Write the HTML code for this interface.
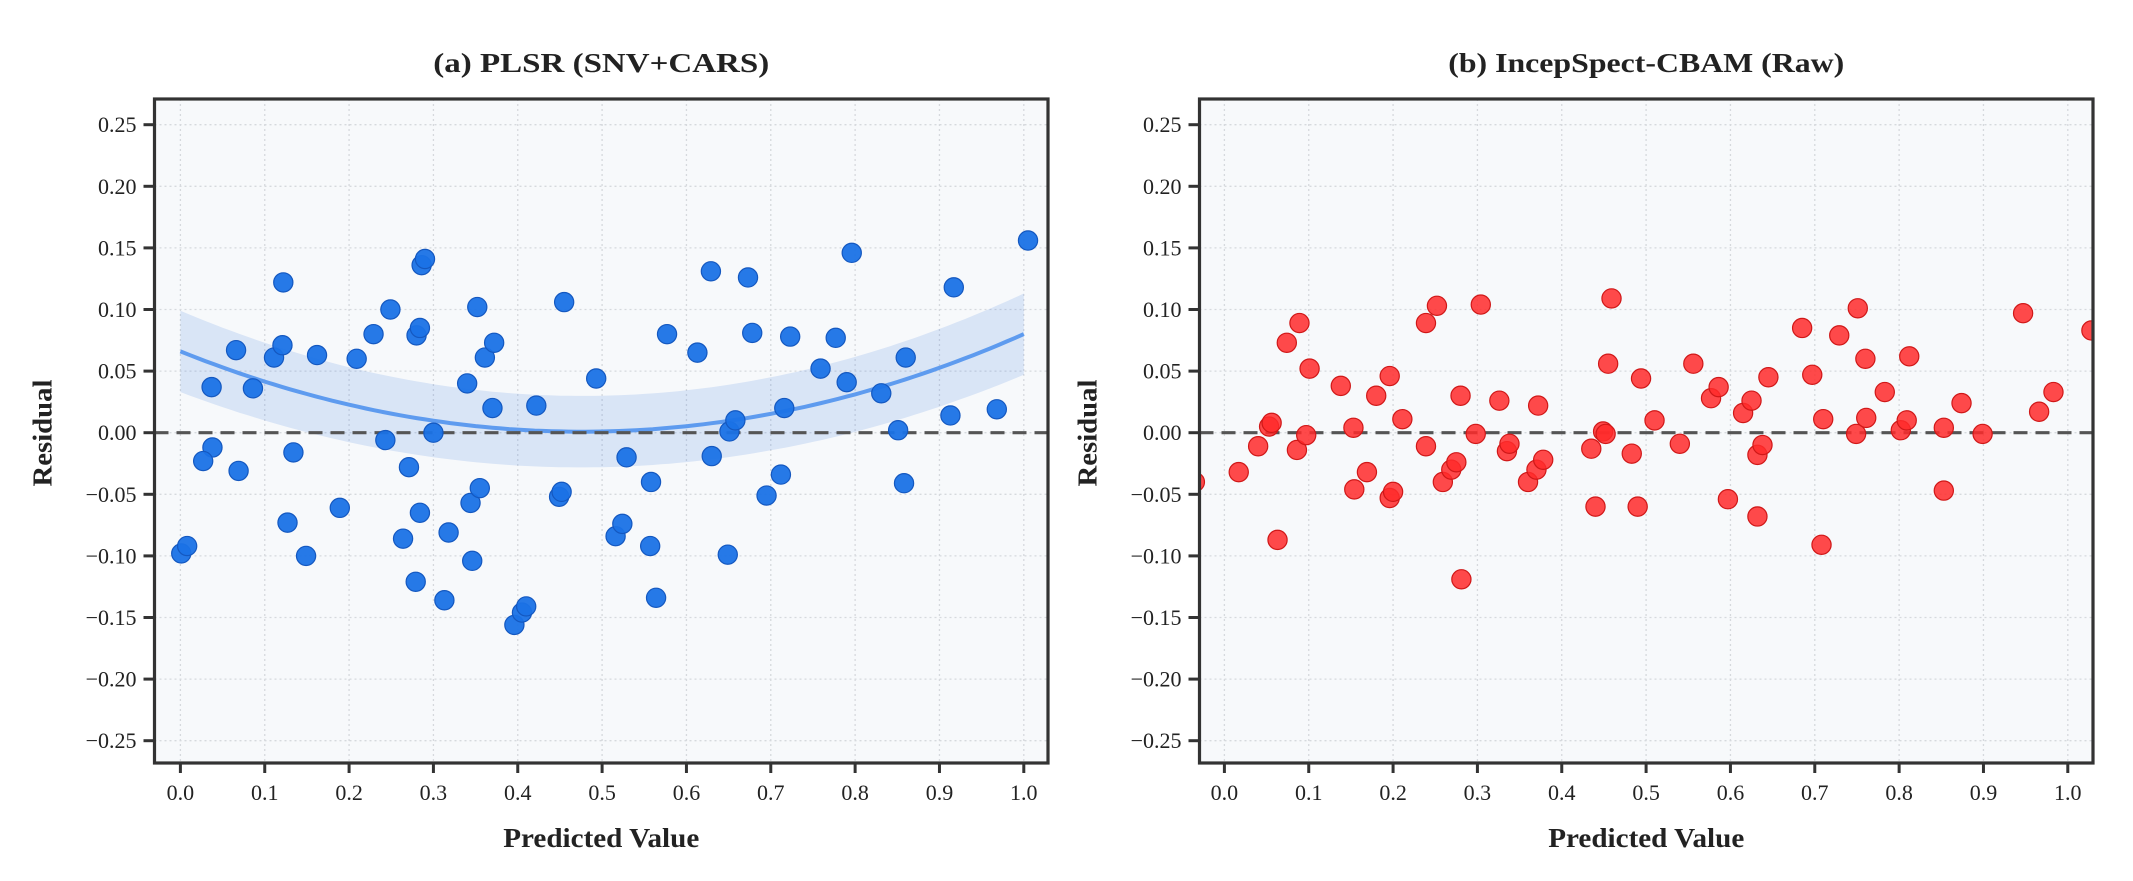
<!DOCTYPE html>
<html><head><meta charset="utf-8"><style>
html,body{margin:0;padding:0;background:#fff;}
svg{display:block;}
text{font-family:"Liberation Serif",serif;fill:#222;}
</style></head><body>
<svg id="chart" width="2133" height="881" viewBox="0 0 2133 881" xmlns="http://www.w3.org/2000/svg"></svg>
<script>
// Panel (a) PLSR data
const plsrPred = [0.001,0.008,0.037,0.038,0.027,0.066,0.069,0.086,0.111,0.121,0.122,0.127,0.134,0.149,0.162,0.189,0.209,0.229,0.243,0.249,0.264,0.271,0.280,0.284,0.279,0.284,0.286,0.290,0.300,0.313,0.318,0.340,0.344,0.346,0.352,0.355,0.361,0.372,0.370,0.396,0.405,0.410,0.422,0.449,0.452,0.455,0.493,0.516,0.524,0.529,0.558,0.557,0.564,0.577,0.613,0.629,0.630,0.649,0.651,0.658,0.673,0.678,0.695,0.712,0.716,0.723,0.759,0.777,0.790,0.796,0.831,0.851,0.860,0.858,0.917,0.913,0.968,1.005];
const plsrRes = [-0.098,-0.092,0.037,-0.012,-0.023,0.067,-0.031,0.036,0.061,0.071,0.122,-0.073,-0.016,-0.100,0.063,-0.061,0.060,0.080,-0.006,0.100,-0.086,-0.028,0.079,0.085,-0.121,-0.065,0.136,0.141,0.000,-0.136,-0.081,0.040,-0.057,-0.104,0.102,-0.045,0.061,0.073,0.020,-0.156,-0.146,-0.141,0.022,-0.052,-0.048,0.106,0.044,-0.084,-0.074,-0.020,-0.040,-0.092,-0.134,0.080,0.065,0.131,-0.019,-0.099,0.001,0.010,0.126,0.081,-0.051,-0.034,0.020,0.078,0.052,0.077,0.041,0.146,0.032,0.002,0.061,-0.041,0.118,0.014,0.019,0.156];
// Quadratic fit coefficients (a*x^2 + b*x + c) and band half-width
const fitCoef = [0.288,-0.274,0.066];
const fitBand = [0.029,0.004];
// Panel (b) IncepSpect-CBAM data
const cnnPred = [-0.035,0.017,0.040,0.053,0.056,0.063,0.074,0.086,0.089,0.097,0.101,0.138,0.153,0.154,0.169,0.180,0.196,0.196,0.200,0.211,0.239,0.239,0.252,0.259,0.269,0.275,0.280,0.281,0.298,0.304,0.326,0.335,0.338,0.360,0.370,0.372,0.378,0.435,0.440,0.449,0.452,0.455,0.459,0.483,0.490,0.494,0.510,0.540,0.556,0.577,0.586,0.597,0.615,0.625,0.632,0.638,0.632,0.645,0.685,0.697,0.708,0.710,0.729,0.751,0.749,0.760,0.761,0.783,0.802,0.809,0.812,0.853,0.853,0.874,0.899,0.947,0.966,0.983,1.028];
const cnnRes = [-0.040,-0.032,-0.011,0.005,0.008,-0.087,0.073,-0.014,0.089,-0.002,0.052,0.038,0.004,-0.046,-0.032,0.030,0.046,-0.053,-0.048,0.011,0.089,-0.011,0.103,-0.040,-0.030,-0.024,0.030,-0.119,-0.001,0.104,0.026,-0.015,-0.009,-0.040,-0.030,0.022,-0.022,-0.013,-0.060,0.001,-0.001,0.056,0.109,-0.017,-0.060,0.044,0.010,-0.009,0.056,0.028,0.037,-0.054,0.016,0.026,-0.018,-0.010,-0.068,0.045,0.085,0.047,-0.091,0.011,0.079,0.101,-0.001,0.060,0.012,0.033,0.002,0.010,0.062,0.004,-0.047,0.024,-0.001,0.097,0.017,0.033,0.083];
const xTicks = [0.0,0.1,0.2,0.3,0.4,0.5,0.6,0.7,0.8,0.9,1.0];
const yTicks = [0.25,0.20,0.15,0.10,0.05,0.00,-0.05,-0.10,-0.15,-0.20,-0.25];

const NS = "http://www.w3.org/2000/svg";
const svg = document.getElementById('chart');
function mk(tag, attrs, parent){
  const e = document.createElementNS(NS, tag);
  for (const k in attrs) e.setAttribute(k, attrs[k]);
  (parent||svg).appendChild(e);
  return e;
}
const Y0 = 432.7, YS = 1232, TOP = 99, BOT = 763;
function yS(v){ return Y0 - v*YS; }

function panel(cfg){
  const xS = v => cfg.x0 + v*843.4;
  const g = mk('g', {});
  
  
  const defs = mk('defs', {}, g);
  const cp = mk('clipPath', {id: cfg.name + '-clip'}, defs);
  mk('rect', {x: cfg.left, y: TOP, width: cfg.right-cfg.left, height: BOT-TOP}, cp);
  const bg = mk('rect', {x: cfg.left, y: TOP, width: cfg.right-cfg.left, height: BOT-TOP, fill: '#f7f9fb'}, g);
  
  
  // grid
  xTicks.forEach(t => {
    const l = mk('line', {x1: xS(t), x2: xS(t), y1: TOP, y2: BOT, stroke: '#d6d9dd', 'stroke-width': 1.3, 'stroke-dasharray': '2,3'}, g);
    
    
  });
  yTicks.forEach(t => {
    const l = mk('line', {x1: cfg.left, x2: cfg.right, y1: yS(t), y2: yS(t), stroke: '#d6d9dd', 'stroke-width': 1.3, 'stroke-dasharray': '2,3'}, g);
    
    
  });
  const clipG = mk('g', {'clip-path': 'url(#' + cfg.name + '-clip)'}, g);
  if (cfg.fit) {
    const [a,b,c] = fitCoef;
    const f = x => a*x*x + b*x + c;
    const hw = x => fitBand[0] + fitBand[1]*(x-0.5)*(x-0.5)*4;
    let up = [], lo = [], ln = [];
    for (let i = 0; i <= 100; i++) {
      const x = i/100;
      up.push(xS(x).toFixed(1) + ',' + yS(f(x)+hw(x)).toFixed(1));
      lo.unshift(xS(x).toFixed(1) + ',' + yS(f(x)-hw(x)).toFixed(1));
      ln.push(xS(x).toFixed(1) + ',' + yS(f(x)).toFixed(1));
    }
    const band = mk('polygon', {points: up.concat(lo).join(' '), fill: '#2f74e0', 'fill-opacity': 0.15}, clipG);
    
    
    const fl = mk('polyline', {points: ln.join(' '), fill: 'none', stroke: '#5e9bef', 'stroke-width': 4}, clipG);
    
    
  }
  const zl = mk('line', {x1: cfg.left, x2: cfg.right, y1: yS(0), y2: yS(0), stroke: '#555', 'stroke-width': 3.2, 'stroke-dasharray': '14,8'}, clipG);
  
  
  cfg.xs.forEach((xv, i) => {
    const c = mk('circle', {cx: xS(xv), cy: yS(cfg.ys[i]), r: 9.6, fill: cfg.fill, 'fill-opacity': cfg.alpha, stroke: cfg.edge, 'stroke-width': 1.2}, clipG);
    
    
  });
  // frame
  const fr = mk('rect', {x: cfg.left, y: TOP, width: cfg.right-cfg.left, height: BOT-TOP, fill: 'none', stroke: '#333', 'stroke-width': 3.2}, g);
  
  
  xTicks.forEach(t => {
    mk('line', {x1: xS(t), x2: xS(t), y1: BOT, y2: BOT+10, stroke: '#333', 'stroke-width': 3}, g);
    const tx = mk('text', {x: xS(t), y: BOT+37, 'text-anchor': 'middle', 'font-size': 22}, g);
    tx.textContent = t.toFixed(1);
    
    
  });
  yTicks.forEach(t => {
    mk('line', {x1: cfg.left-11, x2: cfg.left, y1: yS(t), y2: yS(t), stroke: '#333', 'stroke-width': 3}, g);
    const tx = mk('text', {x: cfg.left-18, y: yS(t)+7.5, 'text-anchor': 'end', 'font-size': 22}, g);
    tx.textContent = (t < 0 ? '\u2212' : '') + Math.abs(t).toFixed(2);
    
    
  });
  const ttl = mk('text', {x: (cfg.left+cfg.right)/2, y: 72, 'text-anchor': 'middle', 'font-size': 27, 'font-weight': 'bold', textLength: cfg.titleLen, lengthAdjust: 'spacingAndGlyphs'}, g);
  ttl.textContent = cfg.title;
  
  
  const xl = mk('text', {x: (cfg.left+cfg.right)/2, y: 847, 'text-anchor': 'middle', 'font-size': 27, 'font-weight': 'bold', textLength: 196, lengthAdjust: 'spacingAndGlyphs'}, g);
  xl.textContent = 'Predicted Value';
  
  
  const yl = mk('text', {x: 0, y: 0, 'text-anchor': 'middle', 'font-size': 27, 'font-weight': 'bold', textLength: 107, lengthAdjust: 'spacingAndGlyphs', transform: 'translate(' + (cfg.left-103) + ',433) rotate(-90)'}, g);
  yl.textContent = 'Residual';
  
  
}

panel({name: 'panel-a-plsr', left: 154.5, right: 1048, x0: 180.4, xs: plsrPred, ys: plsrRes, fill: '#1a72e6', edge: '#1458c0', alpha: 0.95, fit: true, title: '(a) PLSR (SNV+CARS)', titleLen: 336});
panel({name: 'panel-b-incepspect', left: 1199.5, right: 2093, x0: 1224.4, xs: cnnPred, ys: cnnRes, fill: '#ff2a2a', edge: '#d01818', alpha: 0.85, fit: false, title: '(b) IncepSpect-CBAM (Raw)', titleLen: 396});
</script>
</body></html>
